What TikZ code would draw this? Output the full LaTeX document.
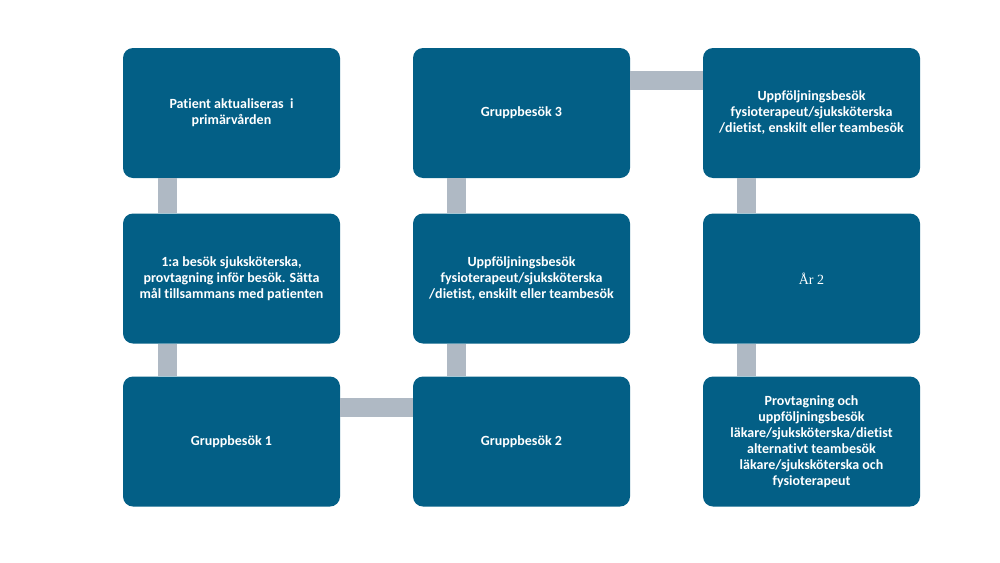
\documentclass[tikz,border=0pt]{standalone}
\usepackage{fontspec}
\setmainfont{Carlito}[Ligatures=NoCommon]
\newfontfamily\serifyear{Liberation Serif}
\definecolor{boxblue}{HTML}{035F86}
\definecolor{barcol}{HTML}{AFB9C4}
\begin{document}
\begin{tikzpicture}[x=1pt,y=-1pt,
  stage/.style={fill=boxblue, rounded corners=10pt, minimum width=217pt, minimum height=130pt,
    inner sep=0pt, text=white, align=center, font=\fontsize{14}{16}\selectfont\bfseries},
  bar/.style={draw=barcol, line width=19pt}]
\useasboundingbox (0,0) rectangle (1000,562);
\node[stage] (a1) at (231.5,113) {Patient aktualiseras\ \ i\\primärvården};
\node[stage] (a2) at (231.5,278.5) {1:a besök sjuksköterska,\\provtagning inför besök. Sätta\\mål tillsammans med patienten};
\node[stage] (a3) at (231.5,441.5) {Gruppbesök 1};
\node[stage] (b1) at (521.5,113) {Gruppbesök 3};
\node[stage] (b2) at (521.5,278.5) {Uppföljningsbesök\\fysioterapeut/sjuksköterska\\/dietist, enskilt eller teambesök};
\node[stage] (b3) at (521.5,441.5) {Gruppbesök 2};
\node[stage] (c1) at (811.5,113) {Uppföljningsbesök\\fysioterapeut/sjuksköterska\\/dietist, enskilt eller teambesök};
\node[stage, font=\fontsize{14}{16}\selectfont\serifyear] (c2) at (811.5,278.5) {År 2};
\node[stage] (c3) at (811.5,441.5) {Provtagning och\\uppföljningsbesök\\läkare/sjuksköterska/dietist\\alternativt teambesök\\läkare/sjuksköterska och\\fysioterapeut};
\draw[bar] ([xshift=-64.5pt]a1.south) -- ([xshift=-64.5pt]a2.north);
\draw[bar] ([xshift=-64.5pt]a2.south) -- ([xshift=-64.5pt]a3.north);
\draw[bar] ([yshift=34pt]a3.east) -- ([yshift=34pt]b3.west);
\draw[bar] ([xshift=-65pt]b3.north) -- ([xshift=-65pt]b2.south);
\draw[bar] ([xshift=-65pt]b2.north) -- ([xshift=-65pt]b1.south);
\draw[bar] ([yshift=32.5pt]b1.east) -- ([yshift=32.5pt]c1.west);
\draw[bar] ([xshift=-65pt]c1.south) -- ([xshift=-65pt]c2.north);
\draw[bar] ([xshift=-65pt]c2.south) -- ([xshift=-65pt]c3.north);
\end{tikzpicture}
\end{document}
